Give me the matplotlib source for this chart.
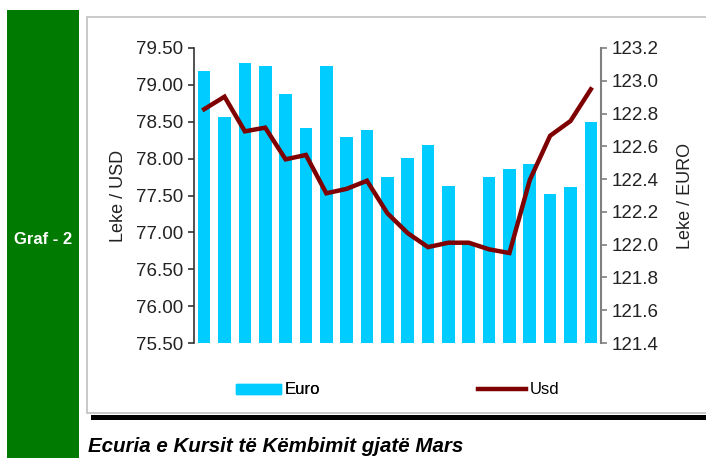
import matplotlib
matplotlib.use("Agg")
import matplotlib.pyplot as plt
import matplotlib.patches as mpatches
import matplotlib.lines as mlines
import numpy as np

plt.rcParams['font.family'] = ['Liberation Sans', 'DejaVu Sans']

# Data
days = list(range(1, 21))
euro = [123.06, 122.78, 123.11, 123.09, 122.92, 122.71, 123.09, 122.66, 122.70, 122.41,
        122.53, 122.61, 122.36, 122.01, 122.41, 122.46, 122.49, 122.31, 122.35, 122.75]
usd = [78.67, 78.84, 78.37, 78.42, 77.99, 78.05, 77.53, 77.59, 77.70, 77.26,
       76.99, 76.80, 76.86, 76.86, 76.77, 76.72, 77.71, 78.31, 78.51, 78.94]
left_ticks = [75.50, 76.00, 76.50, 77.00, 77.50, 78.00, 78.50, 79.00, 79.50]
right_ticks = [121.4, 121.6, 121.8, 122.0, 122.2, 122.4, 122.6, 122.8, 123.0, 123.2]

W, H = 706, 458
fig = plt.figure(figsize=(W / 100, H / 100), dpi=100)
fig.patch.set_facecolor('white')

def fx(x): return x / W
def fy(y): return 1 - y / H

narrow = ['Liberation Sans Narrow', 'Liberation Sans', 'DejaVu Sans']

# green side bar
fig.patches.append(mpatches.Rectangle((fx(7), fy(458)), fx(72), fy(10) - fy(458),
                                      transform=fig.transFigure, facecolor='#007A00', edgecolor='none', zorder=-5))
fig.text(fx(43), fy(240), 'Graf - 2', color='white', fontsize=12, fontweight='bold',
         family=narrow, ha='center', va='center')

# shadow line and chart box
fig.patches.append(mpatches.Rectangle((fx(91), fy(420)), fx(706 - 91), fy(415) - fy(420),
                                      transform=fig.transFigure, facecolor='black', edgecolor='none', zorder=-5))
fig.patches.append(mpatches.Rectangle((fx(87), fy(413)), fx(706 - 87) + 0.01, fy(17) - fy(413),
                                      transform=fig.transFigure, facecolor='white', edgecolor='#C0C0C0',
                                      linewidth=1.2, zorder=-4))

ax1 = fig.add_axes([fx(194), fy(343), fx(601 - 194), fy(48) - fy(343)])
ax2 = ax1.twinx()
x = np.arange(len(days))

bars = ax2.bar(x, euro, width=0.62, color='#00CCFF')
ax2.set_ylim(121.4, 123.2)
ax2.set_yticks(right_ticks)
ax2.set_yticklabels([f'{v:.1f}' for v in right_ticks])

line, = ax1.plot(x, usd, color='#7F0000', linewidth=3.2, solid_joinstyle='miter')
ax1.set_ylim(75.5, 79.5)
ax1.set_yticks(left_ticks)
ax1.set_yticklabels([f'{v:.2f}' for v in left_ticks])
ax1.set_xlim(-0.5, len(days) - 0.5)
ax2.patch.set_visible(False)
ax1.patch.set_visible(False)
ax2.set_zorder(1)
ax1.set_zorder(2)

for ax in (ax1, ax2):
    ax.set_xticks([])
    for s in ('top', 'bottom'):
        ax.spines[s].set_visible(False)
    ax.tick_params(axis='y', labelsize=13.5, length=4, width=1.2, labelcolor='#222222', pad=4)
ax1.spines['right'].set_visible(False)
ax2.spines['left'].set_visible(False)
ax1.spines['left'].set_color('#333333')
ax1.spines['left'].set_linewidth(1.2)
ax2.spines['right'].set_color('#808080')
ax2.spines['right'].set_linewidth(1.5)
ax2.tick_params(axis='y', color='#808080')
ax1.tick_params(axis='y', color='#333333')

ax1.set_ylabel('Leke / USD', fontsize=13, color='#222222')
ax1.yaxis.set_label_coords((127 - 194) / (601 - 194), 0.5)
ax2.set_ylabel('Leke / EURO', fontsize=13, color='#222222')
ax2.yaxis.set_label_coords((677 - 194) / (601 - 194), 0.5)

h_euro = mpatches.Patch(color='#00CCFF', label='Euro')
h_usd = mlines.Line2D([], [], color='#7F0000', linewidth=3.2, label='Usd')
leg1 = fig.legend(handles=[h_euro], loc='center left', bbox_to_anchor=(fx(229), fy(390)),
                  frameon=False, prop={'family': narrow, 'size': 12},
                  handlelength=2.7, handleheight=0.55, handletextpad=0.25, borderaxespad=0)
leg2 = fig.legend(handles=[h_usd], loc='center left', bbox_to_anchor=(fx(471), fy(390)),
                  frameon=False, prop={'family': narrow, 'size': 12},
                  handlelength=2.9, handletextpad=0.2, borderaxespad=0)
fig.add_artist(leg1)

fig.text(fx(88), fy(447), 'Ecuria e Kursit të Këmbimit gjatë Mars', fontsize=14.8,
         fontweight='bold', fontstyle='italic', family=narrow, ha='left', va='center')

fig.savefig('out.png', dpi=100, facecolor='white')
